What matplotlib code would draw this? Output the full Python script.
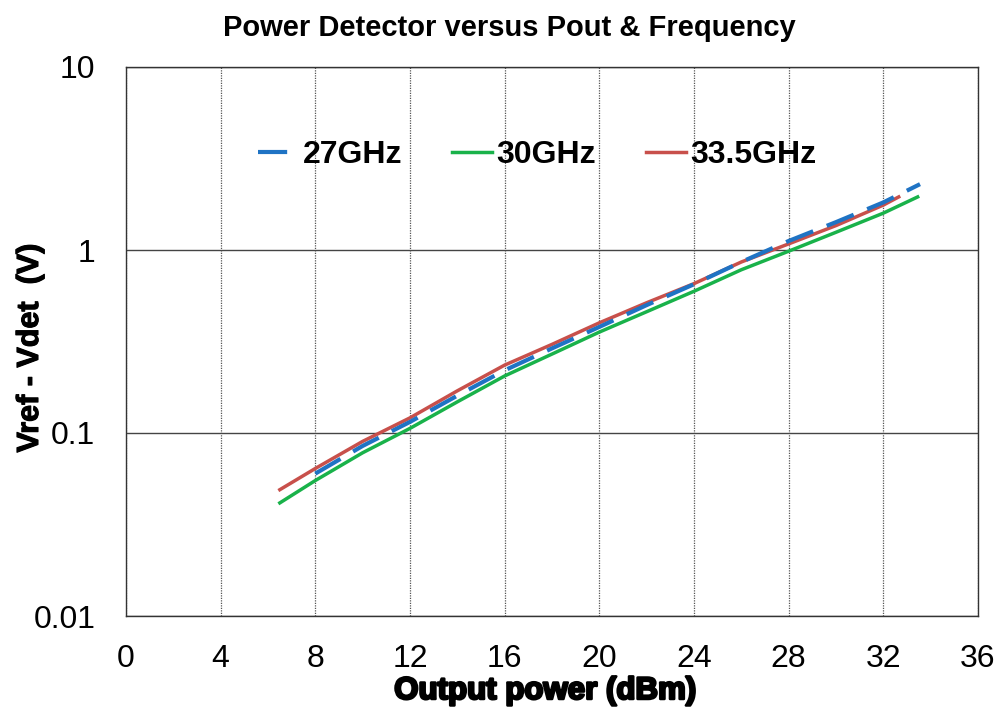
import numpy as np
import matplotlib
matplotlib.use('Agg')
import matplotlib.pyplot as plt
import matplotlib.patheffects as pe
from matplotlib.ticker import FixedLocator, NullLocator, FixedFormatter

plt.rcParams['font.family'] = ['Liberation Sans', 'DejaVu Sans']

# data
pout_27 = [8, 10, 12, 14, 16, 18, 20, 22, 24, 26, 28, 30, 32, 33.55]
vdet_27 = [0.060, 0.085, 0.115, 0.160, 0.220, 0.290, 0.380, 0.500, 0.650, 0.860, 1.12, 1.42, 1.82, 2.29]

pout_30 = [6.5, 8, 10, 12, 14, 16, 18, 20, 22, 24, 26, 28, 30, 32, 33.45]
vdet_30 = [0.0415, 0.055, 0.078, 0.106, 0.148, 0.205, 0.270, 0.356, 0.460, 0.595, 0.780, 0.985, 1.25, 1.59, 1.95]

pout_335 = [6.5, 8, 10, 12, 14, 16, 18, 20, 22, 24, 26, 28, 30, 32, 32.65]
vdet_335 = [0.049, 0.064, 0.090, 0.121, 0.170, 0.235, 0.305, 0.400, 0.515, 0.655, 0.860, 1.08, 1.36, 1.76, 1.95]

xticks = list(range(0, 37, 4))
yticks = [0.01, 0.1, 1, 10]
ytick_labels = ['0.01', '0.1', '1', '10']

fig = plt.figure(figsize=(9.97, 7.09), dpi=100)
ax = fig.add_axes([126 / 997, 1 - 616 / 709, (978 - 126) / 997, (616 - 67) / 709])

ax.plot(pout_27, vdet_27, color='#1f73c4', lw=3, dashes=(7, 3.5), label='27GHz', zorder=4)
ax.plot(pout_30, vdet_30, color='#19b24a', lw=2.5, label='30GHz', zorder=3)
ax.plot(pout_335, vdet_335, color='#c8504b', lw=2.5, label='33.5GHz', zorder=3)

ax.set_yscale('log')
ax.set_xlim(0, 36)
ax.set_ylim(0.01, 10)
ax.xaxis.set_major_locator(FixedLocator(xticks))
ax.yaxis.set_major_locator(FixedLocator(yticks))
ax.yaxis.set_major_formatter(FixedFormatter(ytick_labels))
ax.yaxis.set_minor_locator(NullLocator())
ax.tick_params(axis='both', length=0, labelsize=23)
ax.tick_params(axis='x', pad=20)
ax.tick_params(axis='y', pad=22)

ax.grid(axis='x', color='#555555', ls=(0, (1, 1)), lw=0.9)
ax.grid(axis='y', color='#444444', ls='-', lw=1.0)
for s in ax.spines.values():
    s.set_color('#333333')
    s.set_linewidth(1.0)

fig.text(509 / 997, 1 - 28 / 709, 'Power Detector versus Pout & Frequency',
         fontsize=21, fontweight='bold', ha='center', va='center')
yl = ax.set_ylabel('Vref - Vdet  (V)', fontsize=22, fontweight='bold')
ax.yaxis.set_label_coords(-(126 - 30) / 852, (616 - 348) / 549)
yl.set_va('center')
yl.set_path_effects([pe.withStroke(linewidth=0.8, foreground='black')])
xl = ax.set_xlabel('Output power (dBm)', fontsize=22.5, fontweight='bold')
ax.xaxis.set_label_coords((545 - 126) / 852, -(691 - 616) / 549)
xl.set_va('center')
xl.set_path_effects([pe.withStroke(linewidth=1.8, foreground='black')])

leg = ax.legend(loc='center left', bbox_to_anchor=(0.155, 0.84), ncol=3, frameon=False,
                prop={'size': 23, 'weight': 'bold'}, handlelength=1.25, handletextpad=0.15,
                columnspacing=1.55, borderaxespad=0, borderpad=0)

fig.savefig('out.png', dpi=100)
